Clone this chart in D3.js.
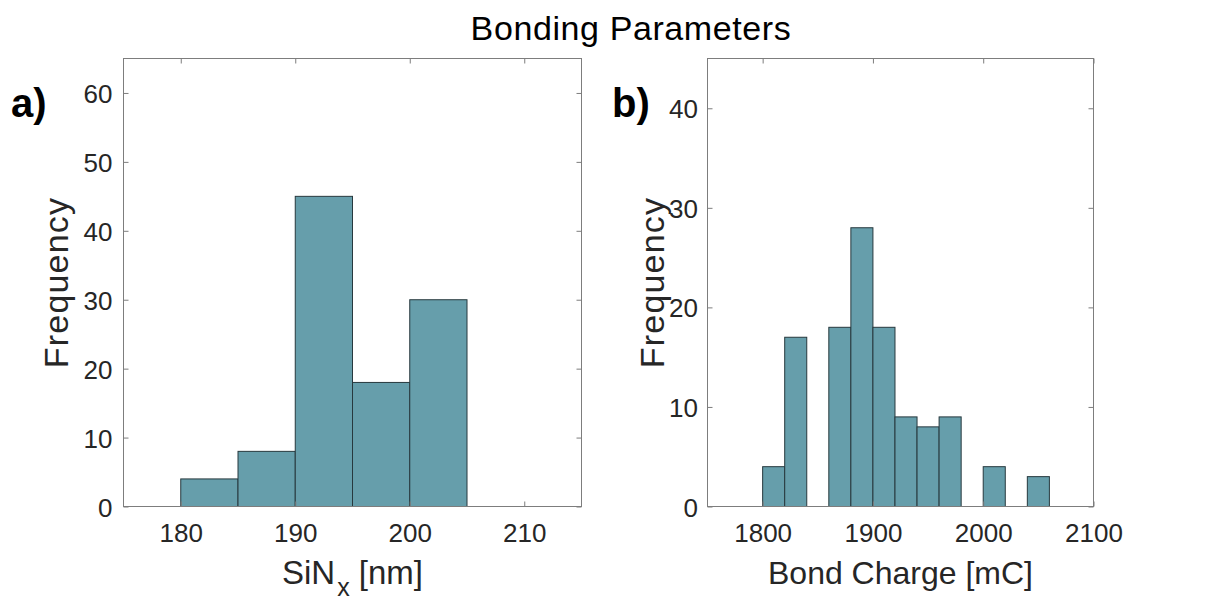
<!DOCTYPE html>
<html>
<head>
<meta charset="utf-8">
<script src="https://cdn.jsdelivr.net/npm/d3@7"></script>
<style>
  html, body { margin: 0; padding: 0; background: #fff; }
  svg { display: block; }
  text { font-family: "Liberation Sans", Arial, Helvetica, sans-serif; }
</style>
</head>
<body>
<svg id="chart" width="1220" height="603"></svg>
<script>
// ---- Data ----
const titleText = "Bonding Parameters";

// Panel a) SiNx thickness histogram
const aBinEdges = [180, 185, 190, 195, 200, 205];
const aCounts = [4, 8, 45, 18, 30];
const aXDomain = [175, 215];
const aYDomain = [0, 65];
const aXTicks = [180, 190, 200, 210];
const aYTicks = [0, 10, 20, 30, 40, 50, 60];

// Panel b) Bond charge histogram
const bBinEdges = [1800, 1820, 1840, 1860, 1880, 1900, 1920, 1940, 1960, 1980, 2000, 2020, 2040, 2060];
const bCounts = [4, 17, 0, 18, 28, 18, 9, 8, 9, 0, 4, 0, 3];
const bXDomain = [1750, 2100];
const bYDomain = [0, 45];
const bXTicks = [1800, 1900, 2000, 2100];
const bYTicks = [0, 10, 20, 30, 40];

// ---- Drawing ----
const svg = d3.select("#chart");
const barFill = "#669eab";
const barEdge = "#27393e";
const frameColor = "#7d7d7d";
const textColor = "#262626";

svg.append("text")
  .attr("x", 631).attr("y", 40)
  .attr("text-anchor", "middle")
  .attr("font-size", 34)
  .attr("letter-spacing", 0.6)
  .attr("fill", "#000")
  .text(titleText);

function panel(cfg) {
  const x = d3.scaleLinear().domain(cfg.xDomain).range([cfg.left, cfg.right]);
  const y = d3.scaleLinear().domain(cfg.yDomain).range([cfg.bottom, cfg.top]);
  const g = svg.append("g");

  const bins = cfg.counts.map((c, i) => ({x0: cfg.edges[i], x1: cfg.edges[i + 1], c}));
  g.selectAll("rect.bar").data(bins.filter(d => d.c > 0)).join("rect")
    .attr("class", "bar")
    .attr("x", d => x(d.x0))
    .attr("y", d => y(d.c))
    .attr("width", d => x(d.x1) - x(d.x0))
    .attr("height", d => y(0) - y(d.c))
    .attr("fill", barFill)
    .attr("stroke", barEdge)
    .attr("stroke-width", 1);

  const tick = 5;
  const axB = d3.axisBottom(x).tickValues(cfg.xTicks).tickSizeInner(-tick).tickSizeOuter(0).tickFormat(d3.format("d")).tickPadding(0);
  const gb = g.append("g").attr("transform", `translate(0,${cfg.bottom})`).call(axB);
  const axT = d3.axisTop(x).tickValues(cfg.xTicks).tickSizeInner(-tick).tickSizeOuter(0).tickFormat("");
  const gt = g.append("g").attr("transform", `translate(0,${cfg.top})`).call(axT);
  const axL = d3.axisLeft(y).tickValues(cfg.yTicks).tickSizeInner(-tick).tickSizeOuter(0).tickFormat(d3.format("d")).tickPadding(0);
  const gl = g.append("g").attr("transform", `translate(${cfg.left},0)`).call(axL);
  const axR = d3.axisRight(y).tickValues(cfg.yTicks).tickSizeInner(-tick).tickSizeOuter(0).tickFormat("");
  const gr = g.append("g").attr("transform", `translate(${cfg.right},0)`).call(axR);

  [gb, gt, gl, gr].forEach(a => {
    a.select(".domain").remove();
    a.selectAll(".tick line").attr("stroke", frameColor).attr("stroke-width", 1);
  });
  gb.selectAll(".tick text")
    .attr("y", 35).attr("dy", null)
    .attr("font-size", 26).attr("fill", textColor)
    .attr("font-family", "Liberation Sans, Arial, sans-serif");
  gl.selectAll(".tick text")
    .attr("x", -cfg.yLabelGap).attr("dy", null).attr("y", 9.5)
    .attr("font-size", 26).attr("fill", textColor)
    .attr("font-family", "Liberation Sans, Arial, sans-serif");

  g.append("rect")
    .attr("x", cfg.left).attr("y", cfg.top)
    .attr("width", cfg.right - cfg.left).attr("height", cfg.bottom - cfg.top)
    .attr("fill", "none").attr("stroke", frameColor).attr("stroke-width", 1);

  g.append("text")
    .attr("transform", `translate(${cfg.yLabelX},${(cfg.top + cfg.bottom) / 2}) rotate(-90)`)
    .attr("text-anchor", "middle")
    .attr("font-size", 34)
    .attr("letter-spacing", 1.2)
    .attr("fill", textColor)
    .text("Frequency");

  svg.append("text")
    .attr("x", cfg.letterX).attr("y", 117)
    .attr("font-size", 40).attr("font-weight", "bold")
    .attr("fill", "#000")
    .text(cfg.letter);

  return {g, x, y};
}

const pa = panel({
  left: 123.5, right: 581.5, top: 58.5, bottom: 506.5,
  xDomain: aXDomain, yDomain: aYDomain, xTicks: aXTicks, yTicks: aYTicks,
  edges: aBinEdges, counts: aCounts, yLabelGap: 11, yLabelX: 68,
  letter: "a)", letterX: 11
});
const pb = panel({
  left: 707.5, right: 1093.5, top: 58.5, bottom: 506.5,
  xDomain: bXDomain, yDomain: bYDomain, xTicks: bXTicks, yTicks: bYTicks,
  edges: bBinEdges, counts: bCounts, yLabelGap: 9.5, yLabelX: 664,
  letter: "b)", letterX: 612
});

const xa = pa.g.append("text")
  .attr("x", (123.5 + 581.5) / 2).attr("y", 584)
  .attr("text-anchor", "middle")
  .attr("font-size", 33).attr("fill", textColor);
xa.append("tspan").text("SiN");
xa.append("tspan").attr("font-size", 25).attr("dx", 2).attr("dy", 12).text("x");
xa.append("tspan").attr("dy", -12).text(" [nm]");

pb.g.append("text")
  .attr("x", (707.5 + 1093.5) / 2).attr("y", 584)
  .attr("text-anchor", "middle")
  .attr("font-size", 32).attr("fill", textColor)
  .text("Bond Charge [mC]");
</script>
</body>
</html>
